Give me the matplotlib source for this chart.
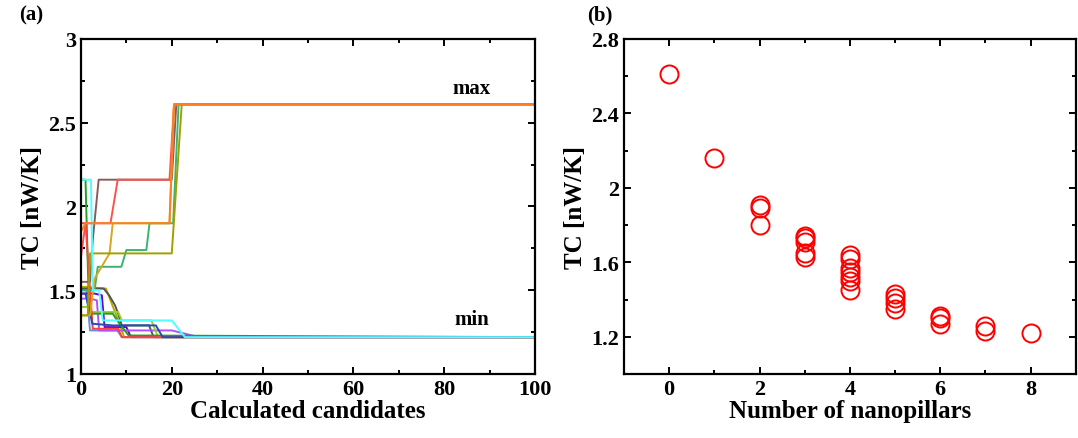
import matplotlib
matplotlib.use('Agg')
import matplotlib.pyplot as plt
from matplotlib.ticker import MultipleLocator

plt.rcParams['font.family'] = ['Liberation Serif', 'DejaVu Serif']
plt.rcParams['font.weight'] = 'bold'

# (a) best-so-far TC per run: (candidate index, TC) breakpoints
# runs searching for the minimum
min_runs = [
    ('#6a8fd8', [0, 1.2, 2, 8, 9, 100], [1.50, 1.50, 1.26, 1.26, 1.22, 1.22]),
    ('#b8a800', [0, 1, 5.5, 6.5, 7.5, 8.5, 9.5, 100], [1.52, 1.52, 1.51, 1.44, 1.37, 1.30, 1.22, 1.22]),
    ('#555555', [0, 2, 5, 6.2, 7.5, 8.2, 9, 15, 16, 100], [1.51, 1.51, 1.51, 1.47, 1.41, 1.36, 1.29, 1.29, 1.22, 1.22]),
    ('#7000d0', [0, 3, 4.6, 5.2, 10, 11, 100], [1.48, 1.48, 1.47, 1.28, 1.28, 1.22, 1.22]),
    ('#b050ff', [0, 2, 3.5, 4, 20, 26, 100], [1.45, 1.45, 1.44, 1.26, 1.26, 1.22, 1.22]),
    ('#9acd32', [0, 1.5, 2.2, 8.2, 9, 15.5, 17, 100], [1.40, 1.40, 1.37, 1.37, 1.32, 1.32, 1.22, 1.22]),
    ('#20a020', [0, 1, 1.8, 7, 8.5, 10.5, 100], [2.16, 2.16, 1.36, 1.36, 1.30, 1.23, 1.22]),
    ('#ff4040', [0, 1, 2.6, 8.2, 9, 100], [1.90, 1.90, 1.27, 1.27, 1.22, 1.22]),
    ('#2050b0', [0, 1, 2.5, 7, 16.5, 18, 100], [1.48, 1.48, 1.30, 1.29, 1.29, 1.22, 1.22]),
    ('#50ffff', [0, 1, 2.2, 2.6, 4, 4.8, 20, 22.9, 100], [2.16, 2.16, 2.16, 1.50, 1.50, 1.32, 1.32, 1.22, 1.22]),
]
# runs searching for the maximum
max_runs = [
    ('#8c5a5a', [0, 2, 2.6, 3.9, 20, 21, 100], [1.55, 1.55, 1.80, 2.16, 2.16, 2.61, 2.61]),
    ('#ff5050', [0, 1, 6.5, 8.1, 19.5, 20.5, 100], [1.70, 1.90, 1.90, 2.16, 2.16, 2.61, 2.61]),
    ('#3cb371', [0, 3, 3.7, 8.9, 10, 14.4, 15.1, 20.3, 21.5, 100], [1.50, 1.50, 1.64, 1.64, 1.74, 1.74, 1.90, 1.90, 2.61, 2.61]),
    ('#daa520', [0, 2, 3, 6.3, 7, 19.5, 20.5, 100], [1.35, 1.35, 1.57, 1.72, 1.90, 1.90, 2.61, 2.61]),
    ('#a0a000', [0, 1.5, 2, 20, 22.2, 100], [1.35, 1.35, 1.72, 1.72, 2.61, 2.61]),
    ('#ff7f1e', [0, 1, 19.5, 20.5, 100], [1.85, 1.90, 1.90, 2.61, 2.61]),
]

# (b) TC vs number of nanopillars
n_pillars = [0, 1, 2, 2, 2, 3, 3, 3, 3, 3, 4, 4, 4, 4, 4, 4, 4,
             5, 5, 5, 5, 6, 6, 6, 7, 7, 8]
tc_values = [2.61, 2.16, 1.91, 1.89, 1.80, 1.74, 1.73, 1.71, 1.65, 1.63,
             1.64, 1.62, 1.57, 1.55, 1.52, 1.50, 1.45,
             1.43, 1.41, 1.38, 1.35, 1.31, 1.30, 1.27, 1.26, 1.23, 1.22]

fig = plt.figure(figsize=(10.78, 4.39), dpi=100)
ax1 = fig.add_axes([0.0751, 0.1458, 0.4212, 0.7631])
ax2 = fig.add_axes([0.5788, 0.1458, 0.4192, 0.7631])

# draw the last min/max runs on top
for color, xs, ys in min_runs[:-1] + max_runs[:-1]:
    ax1.plot(xs, ys, color=color, lw=1.4)
for color, xs, ys in [min_runs[-1], max_runs[-1]]:
    ax1.plot(xs, ys, color=color, lw=1.4)

ax1.set_xlim(0, 100)
ax1.set_ylim(1, 3)
ax1.xaxis.set_major_locator(MultipleLocator(20))
ax1.xaxis.set_minor_locator(MultipleLocator(10))
ax1.set_yticks([1, 1.5, 2, 2.5, 3])
ax1.set_yticklabels(['1', '1.5', '2', '2.5', '3'])
ax1.yaxis.set_minor_locator(MultipleLocator(0.25))
ax1.set_xlabel('Calculated candidates', fontsize=18, fontweight='bold', labelpad=0)
ax1.set_ylabel('TC [nW/K]', fontsize=18, fontweight='bold', labelpad=3)
ax1.text(86, 2.65, 'max', fontsize=15, fontweight='bold', ha='center', va='bottom')
ax1.text(86, 1.27, 'min', fontsize=15, fontweight='bold', ha='center', va='bottom')

ax2.plot(n_pillars, tc_values, 'o', mfc='none', mec='red', ms=13, mew=1.4)
ax2.set_xlim(-1, 9)
ax2.set_ylim(1.0, 2.8)
ax2.xaxis.set_major_locator(MultipleLocator(2))
ax2.xaxis.set_minor_locator(MultipleLocator(1))
ax2.set_yticks([1.2, 1.6, 2.0, 2.4, 2.8])
ax2.set_yticklabels(['1.2', '1.6', '2', '2.4', '2.8'])
ax2.yaxis.set_minor_locator(MultipleLocator(0.2))
ax2.set_xlabel('Number of nanopillars', fontsize=18, fontweight='bold', labelpad=0)
ax2.set_ylabel('TC [nW/K]', fontsize=18, fontweight='bold', labelpad=3)

for ax in (ax1, ax2):
    for s in ax.spines.values():
        s.set_linewidth(1.6)
    ax.tick_params(which='both', direction='in', top=True, right=True,
                   labelsize=16, width=1.4)
    ax.tick_params(which='major', length=5)
    ax.tick_params(which='minor', length=3)
    for lab in ax.get_xticklabels() + ax.get_yticklabels():
        lab.set_fontweight('bold')

fig.text(0.018, 0.965, '(a)', fontsize=15, fontweight='bold', va='center')
fig.text(0.545, 0.965, '(b)', fontsize=15, fontweight='bold', va='center')

fig.savefig('out.png', dpi=100)
